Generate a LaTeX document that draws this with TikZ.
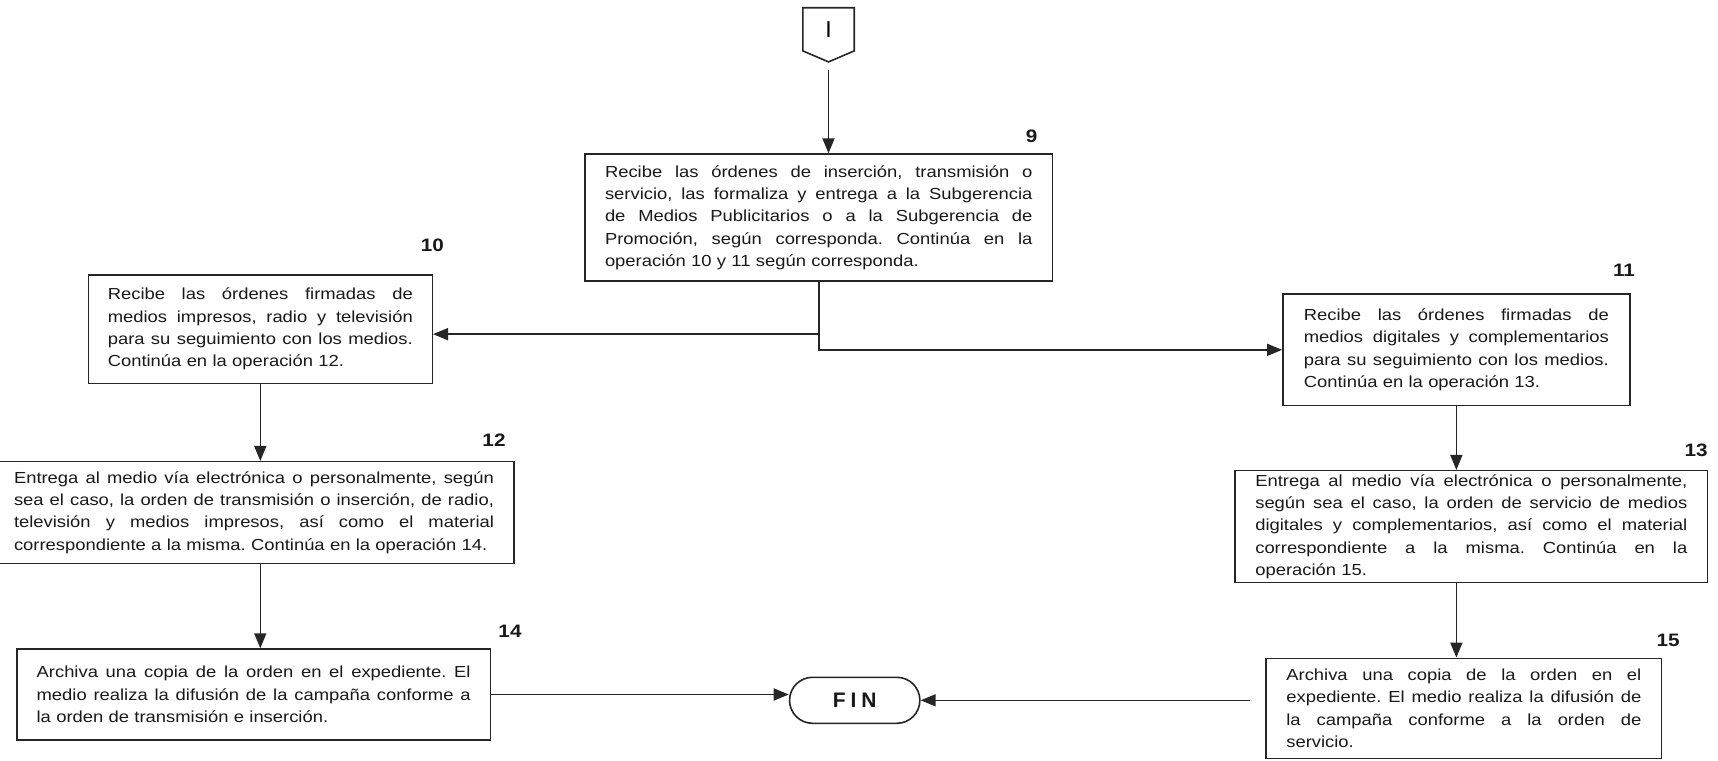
\documentclass[tikz,border=0pt]{standalone}
\usepackage{fontspec}
\setmainfont{Liberation Sans}[FakeStretch=1.15]
\newfontfamily\plainsans{Liberation Sans}
\usetikzlibrary{arrows.meta,shapes.misc,calc}
\newcommand{\jl}[1]{\makebox[\hsize][s]{\spaceskip=0.278em plus 3em\relax\xspaceskip=0pt\relax #1}}
\begin{document}
\begin{tikzpicture}[x=1pt,y=-1pt,
  box/.style={draw=black!85, line width=1.5pt, align=left, inner ysep=0pt, text=black!90,
    font=\fontsize{16}{22.3}\selectfont\frenchspacing},
  num/.style={font=\bfseries\fontsize{18}{20}\selectfont, anchor=base, text=black!90, inner sep=0pt},
  arr/.style={draw=black!85, line width=1.6pt, -{Triangle[length=15pt,width=12pt]}},
  ln/.style={draw=black!85, line width=1.6pt}]
\useasboundingbox (0,0) rectangle (1718,760);
\fill[white] (0,0) rectangle (1718,760);

% connector I
\node[inner sep=0pt, minimum width=51pt, minimum height=42.7pt,
  font=\plainsans\fontsize{23}{23}\selectfont] (conn) at (828.5,29.35) {I};
\coordinate (tip) at ($(conn.south)+(0,11)$);
\draw[ln, line join=miter] (conn.north west) -- (conn.north east) -- (conn.south east) -- (tip) -- (conn.south west) -- cycle;

% boxes
\node[box, text width=427.5pt, inner xsep=20pt, minimum height=127pt] (b9) at (818.75,217.5)
  {\jl{Recibe las órdenes de inserción, transmisión o}\\
   \jl{servicio, las formaliza y entrega a la Subgerencia}\\
   \jl{de Medios Publicitarios o a la Subgerencia de}\\
   \jl{Promoción, según corresponda. Continúa en la}\\
   operación 10 y 11 según corresponda.};
\node[num] (n9) at (1031.7,142.7) {9};

\node[box, text width=305pt, inner xsep=19.5pt, minimum height=108.3pt] (b10) at (260.3,329.15)
  {\jl{Recibe las órdenes firmadas de}\\
   \jl{medios impresos, radio y televisión}\\
   \jl{para su seguimiento con los medios.}\\
   Continúa en la operación 12.};
\node[num] (n10) at (432.3,251.7) {10};

\node[box, text width=305pt, inner xsep=21pt, minimum height=111.7pt] (b11) at (1456.35,349.85)
  {\jl{Recibe las órdenes firmadas de}\\
   \jl{medios digitales y complementarios}\\
   \jl{para su seguimiento con los medios.}\\
   Continúa en la operación 13.};
\node[num] (n11) at (1624,276.7) {11};

\node[box, text width=480pt, inner xsep=20pt, minimum height=101.6pt] (b12) at (254,512.5)
  {\jl{Entrega al medio vía electrónica o personalmente, según}\\
   \jl{sea el caso, la orden de transmisión o inserción, de radio,}\\
   \jl{televisión y medios impresos, así como el material}\\
   correspondiente a la misma. Continúa en la operación 14.};
\node[num] (n12) at (494,446.7) {12};

\node[box, text width=432pt, inner xsep=20.3pt, minimum height=112pt] (b13) at (1471.3,526.7)
  {\jl{Entrega al medio vía electrónica o personalmente,}\\
   \jl{según sea el caso, la orden de servicio de medios}\\
   \jl{digitales y complementarios, así como el material}\\
   \jl{correspondiente a la misma. Continúa en la}\\
   operación 15.};
\node[num] (n13) at (1696,456) {13};

\node[box, text width=434pt, inner xsep=19.85pt, minimum height=91pt] (b14) at (253.65,694.5)
  {\jl{Archiva una copia de la orden en el expediente. El}\\
   \jl{medio realiza la difusión de la campaña conforme a}\\
   la orden de transmisión e inserción.};
\node[num] (n14) at (510,637.7) {14};

\node[box, text width=355pt, inner xsep=20.35pt, minimum height=100pt] (b15) at (1463.85,708.3)
  {\jl{Archiva una copia de la orden en el}\\
   \jl{expediente. El medio realiza la difusión de}\\
   \jl{la campaña conforme a la orden de}\\
   servicio.};
\node[num] (n15) at (1668,646) {15};

% FIN
\node[rounded rectangle, draw=black!85, line width=1.6pt, minimum width=137pt, minimum height=46pt,
  text=black!90, font=\plainsans\bfseries\fontsize{21}{21}\selectfont] (fin) at (854.7,700.3)
  {F\hspace{5pt}I\hspace{5pt}N};

% connectors
\draw[arr, shorten <=8pt] (tip) -- (tip |- b9.north);
\draw[arr] (b9.south) -- (b9.south |- b11.west) -- (b11.west);
\draw[arr] ($(b9.south |- b10.east)+(0,5)$) -- ($(b10.east)+(0,5)$);
\draw[arr] (b10.south) -- (b10.south |- b12.north);
\draw[arr] (b10.south |- b12.south) -- (b10.south |- b14.north);
\draw[arr] (b11.south) -- (b11.south |- b13.north);
\draw[arr] (b11.south |- b13.south) -- (b11.south |- b15.north);
\draw[arr] (b14.east) -- (b14.east -| fin.west);
\draw[arr, shorten <=15pt] (b15.west |- fin.east) -- (fin.east);
\end{tikzpicture}
\end{document}
